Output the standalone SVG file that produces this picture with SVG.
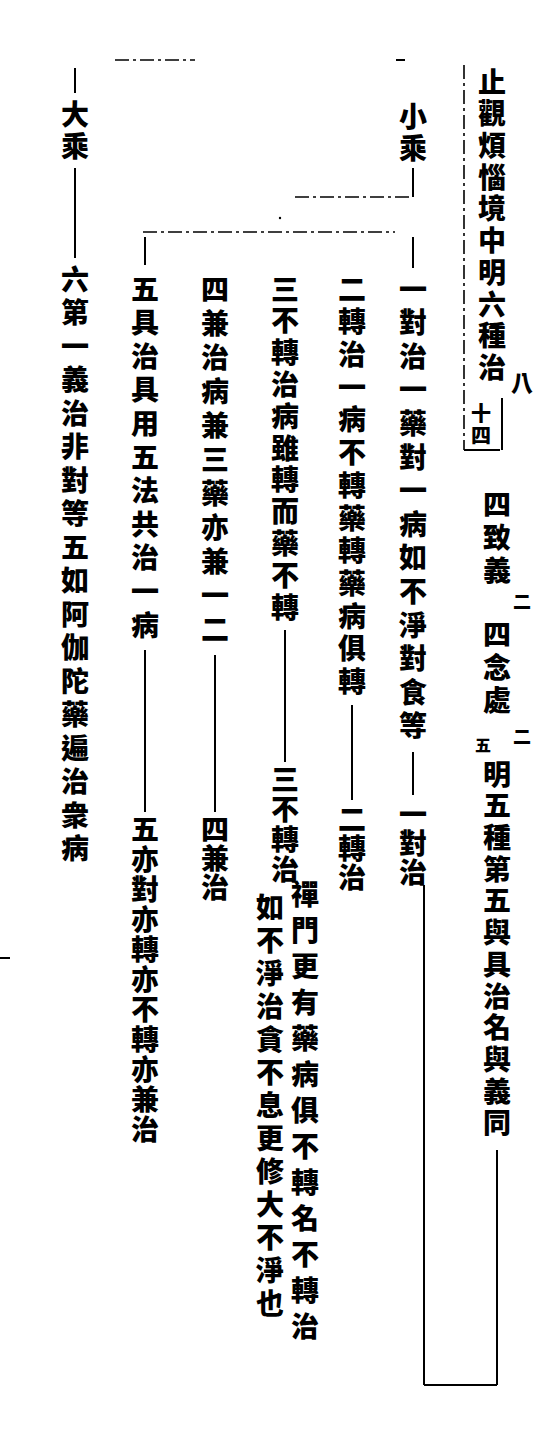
<svg xmlns="http://www.w3.org/2000/svg" width="560" height="1444" viewBox="0 0 560 1444">
<style>
.t{font-family:"Noto Sans CJK TC","Noto Sans CJK SC",sans-serif;font-weight:900;font-size:28px;writing-mode:vertical-rl;fill:#000}
.s{font-size:19px}
.l{stroke:#000;stroke-width:2;fill:none}
.d{stroke:#000;stroke-width:1.6;fill:none;stroke-dasharray:14 4 3 4}
</style>
<rect width="560" height="1444" fill="#fff"/>
<g id="connectors">
<line class="d" x1="464" y1="65" x2="464" y2="450"/>
<line class="l" x1="464" y1="450" x2="500" y2="450"/>
<line class="l" x1="502" y1="398" x2="502" y2="450"/>
<line class="d" x1="115" y1="60" x2="195" y2="60"/>
<line class="l" x1="396" y1="60" x2="405" y2="60"/>
<line class="l" x1="413" y1="168" x2="413" y2="197"/>
<line class="d" x1="295" y1="197" x2="413" y2="197"/>
<line class="d" x1="143" y1="232" x2="395" y2="232"/>
<circle cx="280" cy="218" r="1.2" fill="#000"/>
<line class="l" x1="413" y1="237" x2="413" y2="268"/>
<line class="l" x1="145" y1="237" x2="145" y2="265"/>
<line class="l" x1="75" y1="68" x2="75" y2="93"/>
<line class="l" x1="75" y1="168" x2="75" y2="258"/>
<line class="l" x1="413" y1="752" x2="413" y2="795"/>
<line class="l" x1="352" y1="705" x2="352" y2="800"/>
<line class="l" x1="285" y1="630" x2="285" y2="762"/>
<line class="l" x1="215" y1="655" x2="215" y2="812"/>
<line class="l" x1="145" y1="650" x2="145" y2="812"/>
<line class="l" x1="424" y1="885" x2="424" y2="1385"/>
<line class="l" x1="424" y1="1385" x2="497" y2="1385"/>
<line class="l" x1="497" y1="1150" x2="497" y2="1385"/>
<line class="l" x1="0" y1="958" x2="10" y2="958"/>
</g>
<g id="title">
<text class="t" x="492" y="68" style="letter-spacing:3.7px">止觀煩惱境中明六種治</text>
<text class="t s" x="522" y="372" style="font-size:22px">八</text>
<text class="t s" x="481" y="403" style="font-size:20px;letter-spacing:2px">十四</text>
</g>
<g id="heading2">
<text class="t" x="497" y="490" style="letter-spacing:5px">四致義</text>
<text class="t s" x="522" y="592" style="font-size:18px">二</text>
<text class="t" x="497" y="620" style="letter-spacing:5px">四念處</text>
<text class="t s" x="522" y="727" style="font-size:18px">二</text>
<text class="t s" x="483" y="737" style="font-size:16px">五</text>
<text class="t" x="497" y="760" style="letter-spacing:3.7px">明五種第五與具治名與義同</text>
</g>
<g id="xiaosheng">
<text class="t" x="413" y="102" style="letter-spacing:4px">小乘</text>
</g>
<g id="node1">
<text class="t" x="413" y="275" style="letter-spacing:5.6px">一對治一藥對一病如不淨對食等</text>
<text class="t" x="413" y="800" style="letter-spacing:1px">一對治</text>
</g>
<g id="node2">
<text class="t" x="352" y="275" style="letter-spacing:4.7px">二轉治一病不轉藥轉藥病俱轉</text>
<text class="t" x="352" y="805" style="letter-spacing:1px">二轉治</text>
</g>
<g id="node3">
<text class="t" x="285" y="275" style="letter-spacing:3.8px">三不轉治病雖轉而藥不轉</text>
<text class="t" x="285" y="765" style="letter-spacing:2px">三不轉治</text>
<text class="t" x="305" y="880" style="letter-spacing:8px">禪門更有藥病俱不轉名不轉治</text>
<text class="t" x="270" y="893" style="letter-spacing:5px">如不淨治貪不息更修大不淨也</text>
</g>
<g id="node4">
<text class="t" x="215" y="275" style="letter-spacing:6px">四兼治病兼三藥亦兼一二</text>
<text class="t" x="215" y="815" style="letter-spacing:1px">四兼治</text>
</g>
<g id="node5">
<text class="t" x="145" y="275" style="letter-spacing:5.6px">五具治具用五法共治一病</text>
<text class="t" x="145" y="815" style="letter-spacing:2px">五亦對亦轉亦不轉亦兼治</text>
</g>
<g id="dasheng">
<text class="t" x="75" y="100" style="letter-spacing:4px">大乘</text>
<text class="t" x="75" y="265" style="letter-spacing:5.5px">六第一義治非對等五如阿伽陀藥遍治衆病</text>
</g>
</svg>
